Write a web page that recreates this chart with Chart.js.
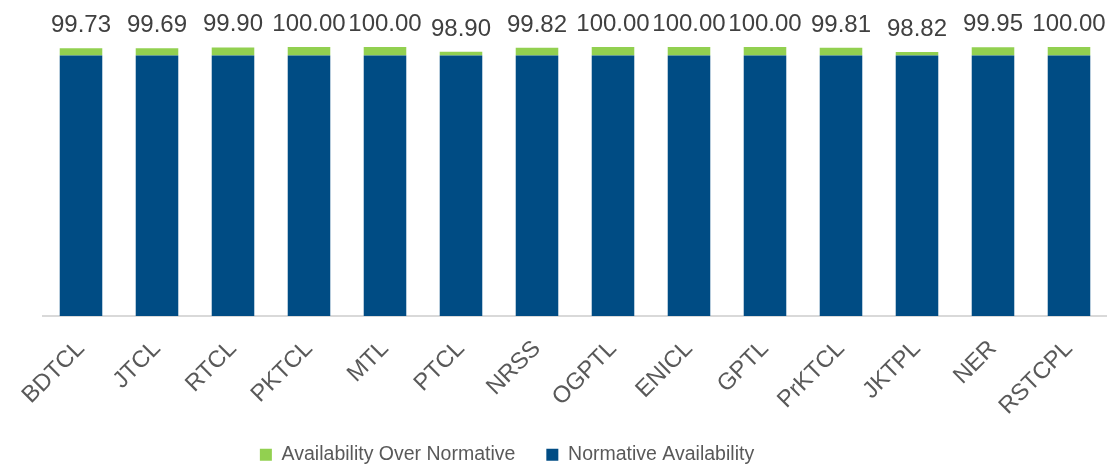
<!DOCTYPE html>
<html>
<head>
<meta charset="utf-8">
<script src="https://cdn.jsdelivr.net/npm/chart.js@4"></script>
<style>
    html, body { margin: 0; padding: 0; background: #fff; }
    #wrap { width: 1107px; height: 465px; }
</style>
</head>
<body>
<div id="wrap"><canvas id="availability-chart" width="1107" height="465"></canvas></div>
<script>
const categories = ['BDTCL', 'JTCL', 'RTCL', 'PKTCL', 'MTL', 'PTCL', 'NRSS', 'OGPTL', 'ENICL', 'GPTL', 'PrKTCL', 'JKTPL', 'NER', 'RSTCPL'];
const totalAvailability = [99.73, 99.69, 99.90, 100.00, 100.00, 98.90, 99.82, 100.00, 100.00, 100.00, 99.81, 98.82, 99.95, 100.00];
const normativeAvailability = [98, 98, 98, 98, 98, 98, 98, 98, 98, 98, 98, 98, 98, 98];
const overNormative = totalAvailability.map((t, i) => +(t - normativeAvailability[i]).toFixed(2));

const fontFamily = '"Liberation Sans", Arial, sans-serif';

// draws the total above each stacked bar, and nudges the legend left like the original
const totalLabels = {
    id: 'totalLabels',
    afterLayout(chart) {
        chart.legend.left -= 68;
        chart.legend.right -= 68;
    },
    afterDatasetsDraw(chart) {
        const ctx = chart.ctx;
        const meta = chart.getDatasetMeta(1);
        ctx.save();
        ctx.font = '24px ' + fontFamily;
        ctx.fillStyle = '#404040';
        ctx.textAlign = 'center';
        ctx.textBaseline = 'alphabetic';
        meta.data.forEach((bar, i) => {
            ctx.fillText(totalAvailability[i].toFixed(2), bar.x, bar.y - 16);
        });
        ctx.restore();
    }
};

const ctx = document.getElementById('availability-chart').getContext('2d');
new Chart(ctx, {
    type: 'bar',
    data: {
        labels: categories,
        datasets: [{
            label: 'Normative Availability',
            data: normativeAvailability,
            backgroundColor: '#004c84',
            barPercentage: 0.56,
            categoryPercentage: 1
        }, {
            label: 'Availability Over Normative',
            data: overNormative,
            backgroundColor: '#92d050',
            barPercentage: 0.56,
            categoryPercentage: 1
        }]
    },
    options: {
        responsive: false,
        animation: false,
        layout: { padding: { left: 43, right: 0, top: 47, bottom: 0 } },
        scales: {
            x: {
                stacked: true,
                grid: { display: false },
                border: { color: '#d9d9d9', width: 2 },
                ticks: {
                    color: '#595959',
                    font: { family: fontFamily, size: 23.5 },
                    minRotation: 45,
                    maxRotation: 45,
                    padding: 11
                },
                afterFit(scale) {
                    scale.height = 98;
                }
            },
            y: {
                stacked: true,
                display: false,
                min: 37,
                max: 100
            }
        },
        plugins: {
            legend: {
                position: 'bottom',
                reverse: true,
                maxHeight: 51,
                labels: {
                    color: '#595959',
                    font: { family: fontFamily, size: 19.5 },
                    boxWidth: 12,
                    boxHeight: 12,
                    padding: 31
                }
            },
            tooltip: { enabled: false }
        }
    },
    plugins: [totalLabels]
});
</script>
</body>
</html>
